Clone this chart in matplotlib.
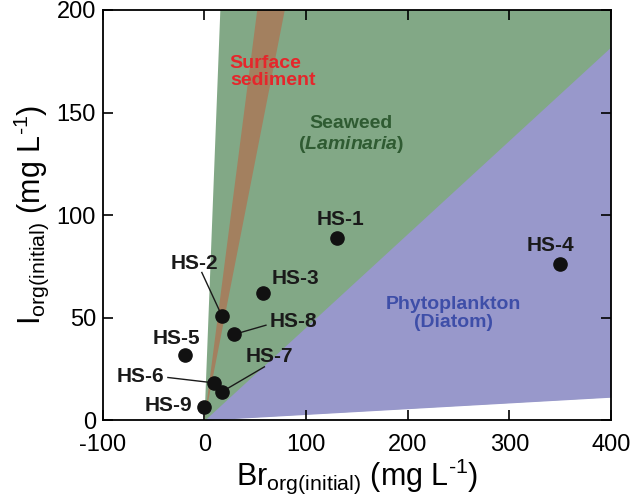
import numpy as np
import matplotlib.pyplot as plt

plt.rcParams['font.family'] = ['Liberation Sans', 'DejaVu Sans']
plt.rcParams['axes.unicode_minus'] = False
plt.rcParams['mathtext.fontset'] = 'custom'
plt.rcParams['mathtext.rm'] = 'Liberation Sans'
plt.rcParams['mathtext.it'] = 'Liberation Sans:italic'
plt.rcParams['mathtext.bfit'] = 'Liberation Sans:italic:bold'

# samples
names = ['HS-1', 'HS-2', 'HS-3', 'HS-4', 'HS-5', 'HS-6', 'HS-7', 'HS-8', 'HS-9']
br = [130, 17, 58, 350, -19.5, 9, 17, 29, 0]
io = [88.8, 51, 62, 76, 32, 18.2, 13.8, 41.8, 6.2]

# label positions (data units), with leader line start
lab_x = [134, -10, 90, 341, -28, -63, 63.5, 88, -35]
lab_y = [98, 76.5, 69, 85, 40, 21.5, 31, 48, 7.3]
leader = [None, (-2.6, 72), None, None, None, (-36, 20.8), (59, 26), (60.5, 46.3), None]

# source I/Br slopes (lower, upper)
seaweed = (0.455, 12.8)
sediment = (2.53, 3.85)
diatom = (0.028, 0.455)

fig = plt.figure(figsize=(6.35, 4.99), dpi=100)
ax = fig.add_axes([0.162, 0.158, 0.80, 0.822])

x = np.linspace(0, 400, 401)
# green drawn down to the diatom floor so no seam shows under the blue wedge
ax.fill_between(x, diatom[0] * x, seaweed[1] * x, color='#82a886', lw=0, zorder=1)
ax.fill_between(x, diatom[0] * x, diatom[1] * x, color='#9898cb', lw=0, zorder=1.5)
ax.fill_between(x, sediment[0] * x, sediment[1] * x, color='#a3805f', lw=0, zorder=2)

ax.text(25, 170, 'Surface\nsediment', color='#e5262b', fontsize=14, fontweight='bold',
        ha='left', va='center', linespacing=1.0, zorder=3)
ax.text(144, 139, 'Seaweed\n(' + r'$\mathbfit{Laminaria}$' + ')', color='#2f5b32', fontsize=14,
        fontweight='bold', ha='center', va='center', linespacing=1.15, zorder=3)
ax.text(245, 52, 'Phytoplankton\n(Diatom)', color='#3e4ea8', fontsize=14, fontweight='bold',
        ha='center', va='center', linespacing=1.15, zorder=3)

ax.plot(br, io, 'o', color='#111111', ms=9.5, zorder=5)
for n, xs, ys, lx, ly, ld in zip(names, br, io, lab_x, lab_y, leader):
    ax.text(lx, ly, n, fontsize=15, fontweight='bold', ha='center', va='center',
            color='#1a1a1a', zorder=6)
    if ld is not None:
        ax.plot([ld[0], xs], [ld[1], ys], color='#1a1a1a', lw=1, zorder=4)

ax.set_xlim(-100, 400)
ax.set_ylim(0, 200)
ax.set_xticks([-100, 0, 100, 200, 300, 400])
ax.set_yticks([0, 50, 100, 150, 200])
ax.tick_params(direction='in', length=7, width=1.2, labelsize=17, top=True, right=True)
ax.tick_params(axis='x', pad=10)
ax.tick_params(axis='y', pad=5)
for s in ax.spines.values():
    s.set_linewidth(1.3)

ax.set_xlabel(r'Br$_{\mathrm{org(initial)}}$ (mg L$^{\text{-1}}$)', fontsize=22, labelpad=0)
ax.set_ylabel(r'I$_{\mathrm{org(initial)}}$ (mg L$^{\text{-1}}$)', fontsize=22, labelpad=4)

fig.savefig('out.png', dpi=100)
